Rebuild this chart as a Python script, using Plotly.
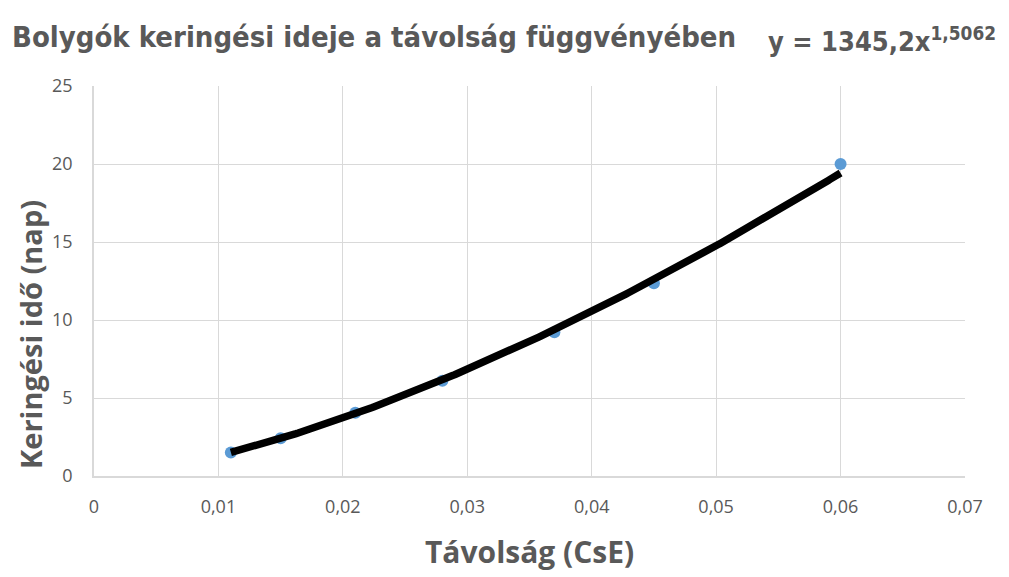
import numpy as np
import plotly.graph_objects as go

# Data (distance in AU "CsE", orbital period in days)
distance = [0.011, 0.015, 0.021, 0.028, 0.037, 0.045, 0.060]
period = [1.51, 2.42, 4.05, 6.10, 9.21, 12.35, 20.0]

title_text = "Bolygók keringési ideje a távolság függvényében"
x_title = "Távolság (CsE)"
y_title = "Keringési idő (nap)"

# Power trendline fitted to the data (log-log least squares, like Excel)
b, ln_a = np.polyfit(np.log(distance), np.log(period), 1)
a = float(np.exp(ln_a))
xt = np.linspace(min(distance), max(distance), 300)
yt = a * xt ** b
eq_text = "y = {}x<sup>{}</sup>".format(f"{a:.1f}".replace(".", ","), f"{b:.4f}".replace(".", ","))

GRAY = "#595959"
GRID = "#d9d9d9"
NARROW = "DejaVu Sans Condensed, sans-serif"

# page offset of the plot div (body margin)
OFF = 8
W, H = 1009, 577
L, R, T, B = 94, 965, 86, 476  # plot area in page pixels
PW, PH = R - L, B - T


def px(x):
    return (x - L) / PW


def py(y):
    return (B - y) / PH


fig = go.Figure()
fig.add_trace(go.Scatter(x=distance, y=period, mode="markers",
                         marker=dict(color="#5B9BD5", size=12), showlegend=False,
                         cliponaxis=False))
fig.add_trace(go.Scatter(x=xt, y=yt, mode="lines",
                         line=dict(color="black", width=7.5), showlegend=False))

fig.update_layout(
    width=W, height=H,
    margin=dict(l=L - OFF, r=W + OFF - R, t=T - OFF, b=H + OFF - B),
    paper_bgcolor="white", plot_bgcolor="white",
    separators=",.",
    font=dict(family="Open Sans", color=GRAY, size=18),
    xaxis=dict(range=[0, 0.07], dtick=0.01, tick0=0, showgrid=True, gridcolor=GRID,
               gridwidth=1.3, zeroline=False, showline=True, linecolor=GRID, linewidth=1.5,
               ticks="", tickfont=dict(size=18, color=GRAY), ticklabelstandoff=14),
    yaxis=dict(range=[0, 25], dtick=5, tick0=0, showgrid=True, gridcolor=GRID,
               gridwidth=1.3, zeroline=False, showline=True, linecolor=GRID, linewidth=1.5,
               ticks="", tickfont=dict(size=18, color=GRAY), ticklabelstandoff=16),
    annotations=[
        dict(text="<b>" + title_text + "</b>", xref="paper", yref="paper",
             x=px(10), y=py(37), xanchor="left", yanchor="middle",
             showarrow=False, font=dict(family=NARROW, size=29, color=GRAY)),
        dict(text="<b>" + eq_text + "</b>", xref="paper", yref="paper",
             x=px(766), y=py(40), xanchor="left", yanchor="middle",
             showarrow=False, font=dict(family=NARROW, size=27, color=GRAY)),
        dict(text="<b>" + x_title + "</b>", xref="paper", yref="paper",
             x=px(529), y=py(551), xanchor="center", yanchor="middle",
             showarrow=False, font=dict(family="Open Sans", size=30, color=GRAY)),
        dict(text="<b>" + y_title + "</b>", xref="paper", yref="paper",
             x=px(30), y=py(335), xanchor="center", yanchor="middle",
             textangle=-90, showarrow=False, font=dict(family="Open Sans", size=29, color=GRAY)),
    ],
)

fig.write_html("out.html")
